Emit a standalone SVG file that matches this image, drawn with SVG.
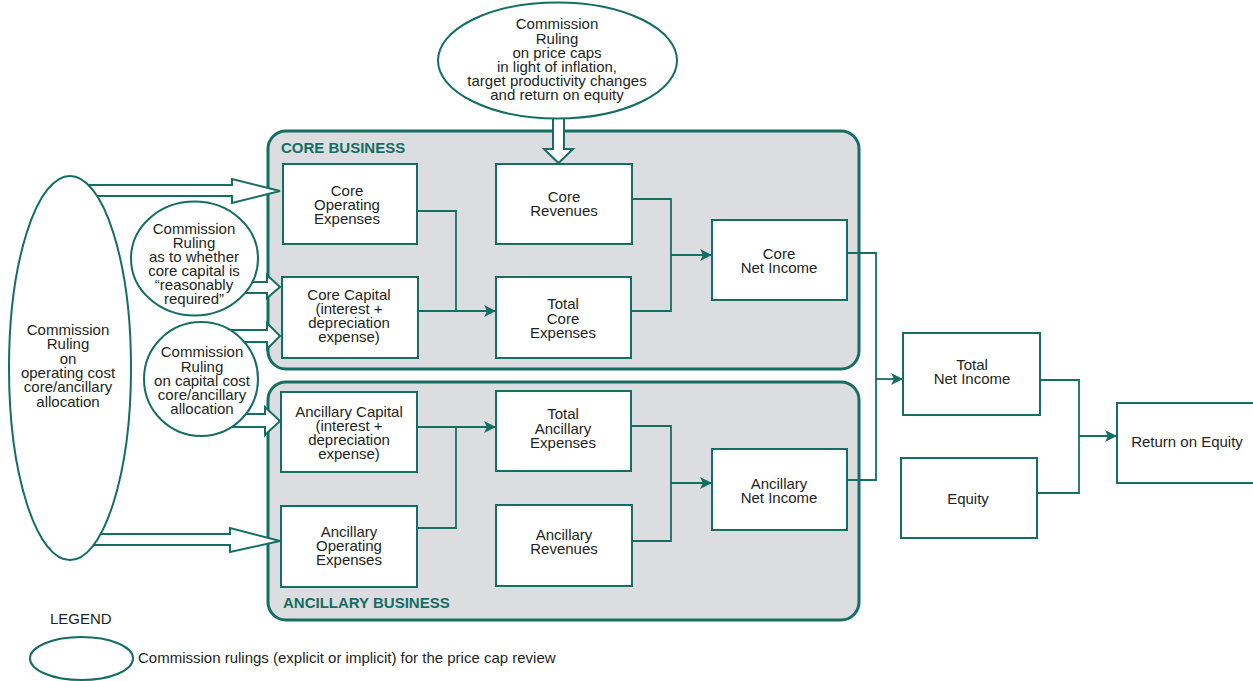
<svg xmlns="http://www.w3.org/2000/svg" width="1253" height="681" viewBox="0 0 1253 681">
  <defs>
    <style>
      .panel { fill: #dcdde0; stroke: #146e64; stroke-width: 3; }
      .box { fill: #ffffff; stroke: #146e64; stroke-width: 2; }
      .ruling { fill: #ffffff; stroke: #146e64; stroke-width: 2; }
      .wire { fill: none; stroke: #146e64; stroke-width: 1.8; }
      .hollow { fill: #ffffff; stroke: #146e64; stroke-width: 2; stroke-linejoin: miter; }
      .t { font-family: "Liberation Sans", Arial, sans-serif; font-size: 15px; fill: #231f20; text-anchor: middle; }
      .ts { font-family: "Liberation Sans", Arial, sans-serif; font-size: 15px; fill: #231f20; }
      .title { font-family: "Liberation Sans", Arial, sans-serif; font-size: 15px; font-weight: bold; fill: #146e64; }
    </style>
    <marker id="arr" markerUnits="userSpaceOnUse" markerWidth="14" markerHeight="12" refX="12" refY="6" orient="auto">
      <path d="M0,0 L12,6 L0,12 L3,6 Z" fill="#146e64"/>
    </marker>
  </defs>

  <!-- business panels -->
  <g id="core-business">
    <rect class="panel" x="268" y="131" width="591" height="238" rx="18"/>
    <text class="title" x="281" y="153">CORE BUSINESS</text>
  </g>
  <g id="ancillary-business">
    <rect class="panel" x="268" y="382" width="591" height="238" rx="18"/>
    <text class="title" x="283" y="608">ANCILLARY BUSINESS</text>
  </g>

  <!-- core nodes -->
  <g id="core-operating-expenses">
    <rect class="box" x="283" y="164" width="134" height="80"/>
    <text class="t"><tspan x="347" y="196">Core</tspan><tspan x="347" y="210">Operating</tspan><tspan x="347" y="224">Expenses</tspan></text>
  </g>
  <g id="core-revenues">
    <rect class="box" x="496" y="164" width="136" height="80"/>
    <text class="t"><tspan x="564" y="202">Core</tspan><tspan x="564" y="216">Revenues</tspan></text>
  </g>
  <g id="core-capital">
    <rect class="box" x="282" y="277" width="136" height="81"/>
    <text class="t"><tspan x="349" y="300">Core Capital</tspan><tspan x="349" y="314">(interest +</tspan><tspan x="349" y="328">depreciation</tspan><tspan x="349" y="342">expense)</tspan></text>
  </g>
  <g id="total-core-expenses">
    <rect class="box" x="496" y="277" width="135" height="81"/>
    <text class="t"><tspan x="563" y="309">Total</tspan><tspan x="563" y="324">Core</tspan><tspan x="563" y="338">Expenses</tspan></text>
  </g>
  <g id="core-net-income">
    <rect class="box" x="712" y="220" width="135" height="80"/>
    <text class="t"><tspan x="779" y="259">Core</tspan><tspan x="779" y="273">Net Income</tspan></text>
  </g>

  <!-- ancillary nodes -->
  <g id="ancillary-capital">
    <rect class="box" x="281" y="392" width="136" height="80"/>
    <text class="t"><tspan x="349" y="417">Ancillary Capital</tspan><tspan x="349" y="431">(interest +</tspan><tspan x="349" y="445">depreciation</tspan><tspan x="349" y="459">expense)</tspan></text>
  </g>
  <g id="total-ancillary-expenses">
    <rect class="box" x="496" y="391" width="135" height="80"/>
    <text class="t"><tspan x="563" y="419">Total</tspan><tspan x="563" y="434">Ancillary</tspan><tspan x="563" y="448">Expenses</tspan></text>
  </g>
  <g id="ancillary-net-income">
    <rect class="box" x="712" y="449" width="135" height="81"/>
    <text class="t"><tspan x="779" y="489">Ancillary</tspan><tspan x="779" y="503">Net Income</tspan></text>
  </g>
  <g id="ancillary-operating-expenses">
    <rect class="box" x="281" y="506" width="136" height="81"/>
    <text class="t"><tspan x="349" y="537">Ancillary</tspan><tspan x="349" y="551">Operating</tspan><tspan x="349" y="565">Expenses</tspan></text>
  </g>
  <g id="ancillary-revenues">
    <rect class="box" x="496" y="505" width="136" height="81"/>
    <text class="t"><tspan x="564" y="540">Ancillary</tspan><tspan x="564" y="554">Revenues</tspan></text>
  </g>

  <!-- totals -->
  <g id="total-net-income">
    <rect class="box" x="903" y="333" width="137" height="82"/>
    <text class="t"><tspan x="972" y="370">Total</tspan><tspan x="972" y="384">Net Income</tspan></text>
  </g>
  <g id="equity">
    <rect class="box" x="901" y="458" width="136" height="80"/>
    <text class="t" x="968" y="504">Equity</text>
  </g>
  <g id="return-on-equity">
    <rect class="box" x="1117" y="403" width="140" height="80"/>
    <text class="t" x="1187" y="447">Return on Equity</text>
  </g>

  <!-- connectors -->
  <g id="connectors">
    <path class="wire" d="M417,211 H456 V311"/>
    <path class="wire" d="M418,311 H496" marker-end="url(#arr)"/>
    <path class="wire" d="M632,199 H671 V311 H631"/>
    <path class="wire" d="M671,255 H712" marker-end="url(#arr)"/>
    <path class="wire" d="M847,253 H876 V480 H847"/>
    <path class="wire" d="M876,379 H903" marker-end="url(#arr)"/>
    <path class="wire" d="M417,427 H496" marker-end="url(#arr)"/>
    <path class="wire" d="M417,528 H456 V427"/>
    <path class="wire" d="M631,426 H671 V541 H632"/>
    <path class="wire" d="M671,483 H712" marker-end="url(#arr)"/>
    <path class="wire" d="M1040,380 H1079 V493 H1037"/>
    <path class="wire" d="M1079,436 H1117" marker-end="url(#arr)"/>

    <!-- ruling arrows (hollow) -->
    <polygon class="hollow" points="553,100 553,149 544,149 558.5,163 573,149 564,149 564,100"/>
    <polygon class="hollow" points="80,185 232,185 232,179 280,191 232,203 232,196 80,196"/>
    <polygon class="hollow" points="80,534 230,534 230,528 280,541 230,552 230,545 80,545"/>
    <polygon class="hollow" points="235,282 267,282 267,275 280,287 267,298 267,293 235,293"/>
    <polygon class="hollow" points="230,330 267,330 267,323 280,336 267,349 267,342 230,342"/>
    <polygon class="hollow" points="230,414 265,414 265,407 280,421 265,435 265,427 230,427"/>
  </g>

  <!-- commission rulings -->
  <g id="ruling-price-caps">
    <ellipse class="ruling" cx="557.5" cy="60.5" rx="119.5" ry="58"/>
    <text class="t"><tspan x="557" y="29">Commission</tspan><tspan x="557" y="43.5">Ruling</tspan><tspan x="557" y="58">on price caps</tspan><tspan x="557" y="72">in light of inflation,</tspan><tspan x="557" y="86">target productivity changes</tspan><tspan x="557" y="100">and return on equity</tspan></text>
  </g>
  <g id="ruling-operating-cost">
    <ellipse class="ruling" cx="70" cy="368" rx="61" ry="192"/>
    <text class="t"><tspan x="68" y="335">Commission</tspan><tspan x="68" y="349">Ruling</tspan><tspan x="68" y="364">on</tspan><tspan x="68" y="378">operating cost</tspan><tspan x="68" y="392">core/ancillary</tspan><tspan x="68" y="407">allocation</tspan></text>
  </g>
  <g id="ruling-core-capital">
    <ellipse class="ruling" cx="194.5" cy="258.5" rx="63.5" ry="57"/>
    <text class="t"><tspan x="194" y="234">Commission</tspan><tspan x="194" y="248">Ruling</tspan><tspan x="194" y="262">as to whether</tspan><tspan x="194" y="276">core capital is</tspan><tspan x="194" y="290">“reasonably</tspan><tspan x="194" y="304">required”</tspan></text>
  </g>
  <g id="ruling-capital-cost">
    <ellipse class="ruling" cx="201" cy="379" rx="57" ry="57"/>
    <text class="t"><tspan x="202" y="357">Commission</tspan><tspan x="202" y="371.5">Ruling</tspan><tspan x="202" y="385.5">on capital cost</tspan><tspan x="202" y="400">core/ancillary</tspan><tspan x="202" y="413.5">allocation</tspan></text>
  </g>

  <!-- legend -->
  <g id="legend">
    <text class="ts" x="50" y="624">LEGEND</text>
    <ellipse class="ruling" cx="81.5" cy="658.5" rx="51.5" ry="21.5"/>
    <text class="ts" x="138" y="663">Commission rulings (explicit or implicit) for the price cap review</text>
  </g>
</svg>
